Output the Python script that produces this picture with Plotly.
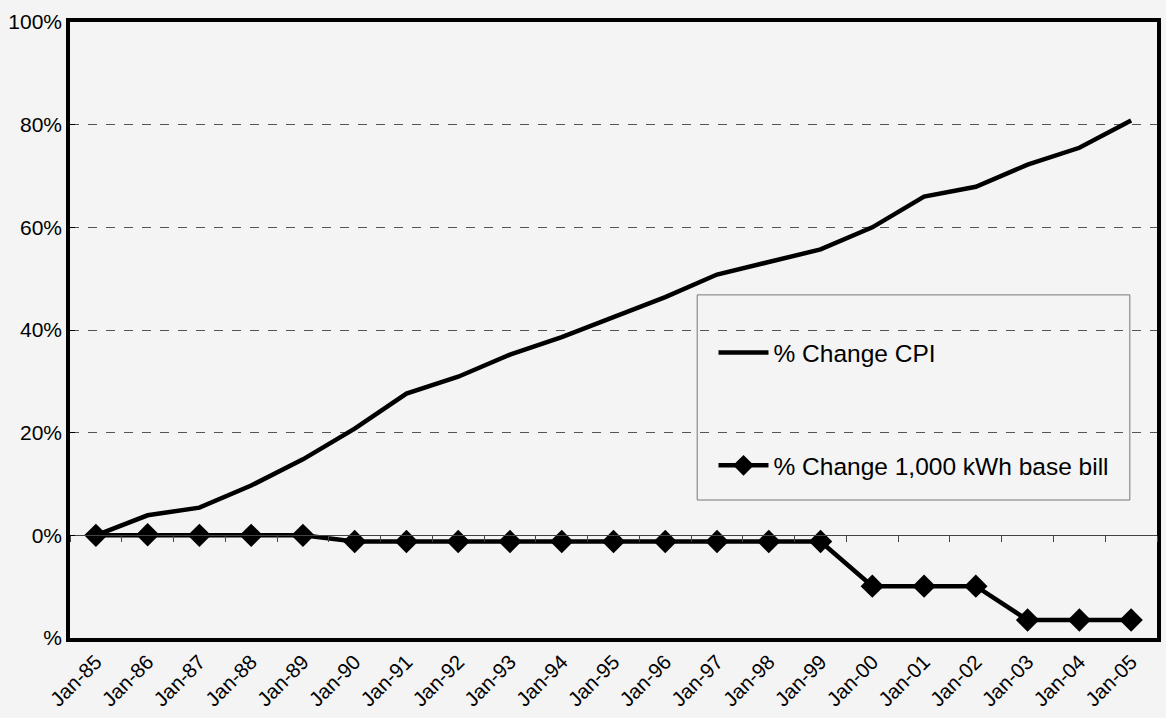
import plotly.graph_objects as go

# Category labels (January of each year)
months = ["Jan-85", "Jan-86", "Jan-87", "Jan-88", "Jan-89", "Jan-90", "Jan-91",
          "Jan-92", "Jan-93", "Jan-94", "Jan-95", "Jan-96", "Jan-97", "Jan-98",
          "Jan-99", "Jan-00", "Jan-01", "Jan-02", "Jan-03", "Jan-04", "Jan-05"]

# Cumulative % change since Jan-85
cpi_change = [0.0, 3.9, 5.4, 9.7, 14.8, 20.8, 27.6, 30.9, 35.2, 38.6, 42.5,
              46.4, 50.8, 53.2, 55.7, 60.0, 66.0, 67.9, 72.2, 75.5, 80.8]
bill_change = [0.0, 0.1, 0.0, 0.0, 0.0, -1.2, -1.2, -1.2, -1.2, -1.2, -1.2,
               -1.2, -1.2, -1.2, -1.2, -9.9, -9.9, -9.9, -16.5, -16.5, -16.5]

# Y-axis tick labels
y_ticks = [-20, 0, 20, 40, 60, 80, 100]
y_tick_text = ["%", "0%", "20%", "40%", "60%", "80%", "100%"]

BG = "#f4f4f4"
FONT = "Liberation Sans, Arial, sans-serif"

fig = go.Figure()

fig.add_trace(go.Scatter(
    x=months, y=cpi_change, mode="lines", name="% Change CPI",
    line=dict(color="black", width=4.5), legendgroup="a",
))
fig.add_trace(go.Scatter(
    x=months, y=bill_change, mode="lines+markers",
    name="% Change 1,000 kWh base bill",
    line=dict(color="black", width=4.5),
    marker=dict(symbol="diamond", size=18, color="black"),
    legendgroup="b",
))
# carrier trace for the zero-crossing category axis
fig.add_trace(go.Scatter(
    x=months, y=[None] * len(months), xaxis="x2", showlegend=False,
    hoverinfo="skip",
))

fig.update_layout(
    width=1166, height=718,
    margin=dict(l=70, r=9, t=22, b=80),
    paper_bgcolor=BG, plot_bgcolor=BG,
    font=dict(family=FONT, color="black", size=20),
    xaxis=dict(
        type="category", categoryorder="array", categoryarray=months,
        range=[-0.5, len(months) - 0.5], automargin=False,
        showline=True, linecolor="black", linewidth=3.5, mirror=True,
        showgrid=False, ticks="", tickangle=-45,
        tickfont=dict(size=20.5),
    ),
    xaxis2=dict(
        type="category", categoryorder="array", categoryarray=months,
        range=[-0.5, len(months) - 0.5], automargin=False,
        overlaying="x", anchor="free", position=1 / 6,
        showline=True, linecolor="#444", linewidth=1,
        ticks="outside", ticklen=6, tickcolor="#444", tickwidth=1,
        tickson="boundaries", showticklabels=False, showgrid=False,
    ),
    yaxis=dict(
        range=[-20, 100], tickvals=y_ticks, ticktext=y_tick_text,
        automargin=False,
        showline=True, linecolor="black", linewidth=3.5, mirror=True,
        showgrid=True, gridcolor="#555", gridwidth=1, griddash="dash",
        zeroline=False, ticks="inside", ticklen=5, tickcolor="black",
        tickfont=dict(size=21),
    ),
    legend=dict(
        x=0.592, y=0.50, xanchor="left", yanchor="top",
        bgcolor="rgba(0,0,0,0)", borderwidth=0,
        font=dict(size=24.5, family=FONT),
        tracegroupgap=78, itemwidth=50,
    ),
    shapes=[dict(
        type="rect", xref="paper", yref="paper",
        x0=0.577, x1=0.975, y0=0.224, y1=0.557,
        line=dict(color="#777", width=1), fillcolor=BG, layer="between",
    )],
)

fig.write_html("out.html")
